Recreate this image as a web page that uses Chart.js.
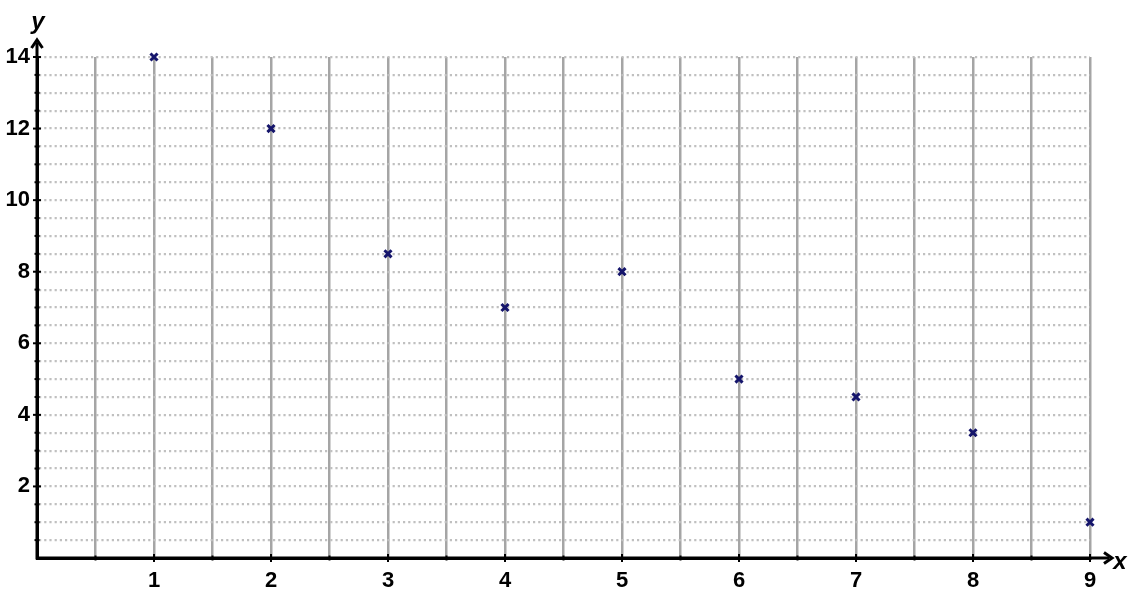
<!DOCTYPE html>
<html>
<head>
<meta charset="utf-8">
<script src="https://cdn.jsdelivr.net/npm/chart.js@4"></script>
<style>
html,body{margin:0;padding:0;background:#fff;}
#wrap{width:1129px;height:600px;position:relative;}
</style>
</head>
<body>
<div id="wrap"><canvas id="c" width="1129" height="600"></canvas></div>
<script>
const xValues = [1, 2, 3, 4, 5, 6, 7, 8, 9];
const yValues = [14, 12, 8.5, 7, 8, 5, 4.5, 3.5, 1];
const xTickLabels = [1, 2, 3, 4, 5, 6, 7, 8, 9];
const yTickLabels = [2, 4, 6, 8, 10, 12, 14];

const points = xValues.map((x, i) => ({ x: x, y: yValues[i] }));
const FONT = '"Liberation Sans", Arial, sans-serif';

const axisDecor = {
  id: 'axisDecor',
  beforeDatasetsDraw(chart) {
    const ctx = chart.ctx;
    const xs = chart.scales.x, ys = chart.scales.y;
    const x0 = xs.getPixelForValue(0), y0 = ys.getPixelForValue(0);
    const xEnd = xs.getPixelForValue(9) + 22;
    const yTop = ys.getPixelForValue(14) - 17;
    ctx.save();
    ctx.strokeStyle = '#000';
    ctx.fillStyle = '#000';
    ctx.lineWidth = 3;
    ctx.lineCap = 'butt';
    ctx.beginPath();
    ctx.moveTo(x0, y0 + 1.5); ctx.lineTo(x0, yTop + 3);
    ctx.moveTo(x0 - 1.5, y0); ctx.lineTo(xEnd - 3, y0);
    ctx.stroke();
    ctx.lineWidth = 3;
    ctx.beginPath();
    ctx.moveTo(x0 - 5.5, yTop + 8); ctx.lineTo(x0, yTop); ctx.lineTo(x0 + 5.5, yTop + 8);
    ctx.moveTo(xEnd - 8, y0 - 5.5); ctx.lineTo(xEnd, y0); ctx.lineTo(xEnd - 8, y0 + 5.5);
    ctx.stroke();
    ctx.lineWidth = 2;
    for (let v = 0.5; v <= 14; v += 0.5) {
      const py = ys.getPixelForValue(v);
      const big = yTickLabels.includes(v);
      ctx.beginPath();
      ctx.moveTo(x0 - (big ? 4 : 2.5), py);
      ctx.lineTo(x0 + (big ? 4 : 2.5), py);
      ctx.stroke();
    }
    for (let v = 0.5; v <= 9; v += 0.5) {
      const px = xs.getPixelForValue(v);
      const big = xTickLabels.includes(v);
      ctx.beginPath();
      ctx.moveTo(px, y0 - (big ? 4 : 2.5));
      ctx.lineTo(px, y0 + (big ? 4 : 2.5));
      ctx.stroke();
    }
    ctx.font = 'italic bold 24px ' + FONT;
    ctx.textAlign = 'center';
    ctx.textBaseline = 'middle';
    ctx.fillText('y', x0 + 1, yTop - 18);
    ctx.fillText('x', xEnd + 8, y0 + 4);
    ctx.restore();
  }
};

new Chart(document.getElementById('c'), {
  type: 'scatter',
  data: {
    datasets: [{
      data: points,
      clip: false,
      pointStyle: 'crossRot',
      pointRadius: 5,
      pointHoverRadius: 5,
      borderColor: '#15156b',
      backgroundColor: '#15156b',
      pointBorderWidth: 3
    }]
  },
  options: {
    responsive: false,
    animation: false,
    events: [],
    layout: { padding: { left: 0, right: 39, top: 57, bottom: 0 } },
    plugins: { legend: { display: false }, tooltip: { enabled: false } },
    scales: {
      x: {
        type: 'linear',
        min: 0, max: 9,
        afterFit(s) { s.height = 42; },
        ticks: {
          stepSize: 0.5,
          autoSkip: false,
          maxRotation: 0,
          padding: 10,
          color: '#000',
          font: { family: FONT, size: 22, weight: 'bold' },
          callback: (v) => xTickLabels.includes(v) ? String(v) : ''
        },
        grid: { color: '#a5a5a5', lineWidth: 2.5, drawTicks: false },
        border: { color: '#000', width: 3 }
      },
      y: {
        type: 'linear',
        min: 0, max: 14,
        afterFit(s) { s.width = 37; },
        ticks: {
          stepSize: 0.5,
          autoSkip: false,
          padding: 7,
          color: '#000',
          font: { family: FONT, size: 22, weight: 'bold' },
          callback: (v) => yTickLabels.includes(v) ? String(v) : ''
        },
        grid: { color: '#c0c0c0', lineWidth: 2.2, drawTicks: false },
        border: { color: '#000', width: 3, dash: [2.2, 3] }
      }
    }
  },
  plugins: [axisDecor]
});
</script>
</body>
</html>
